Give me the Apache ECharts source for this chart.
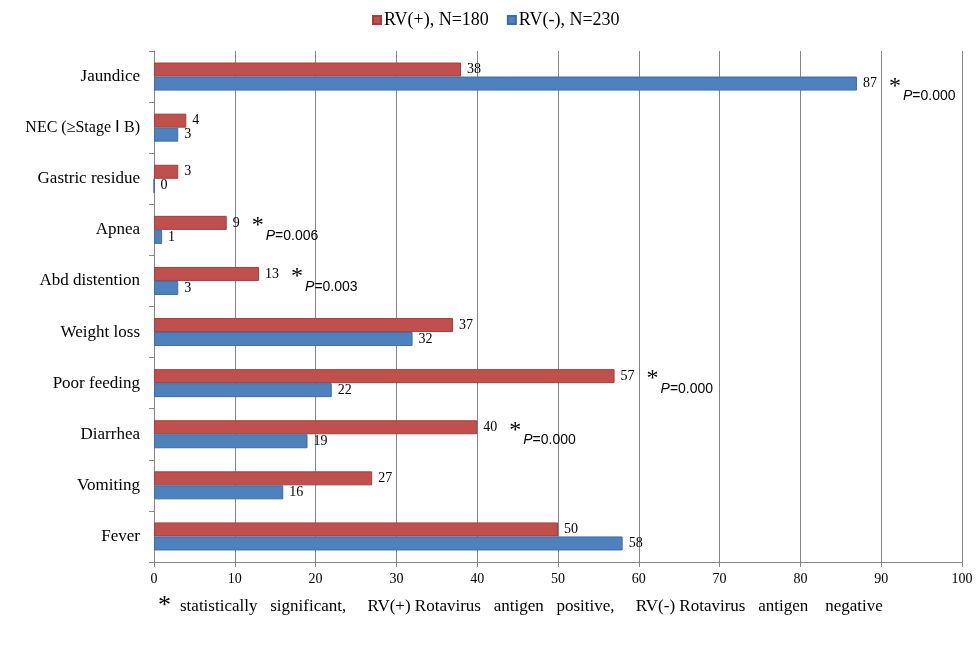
<!DOCTYPE html>
<html>
<head>
<meta charset="utf-8">
<script src="https://cdn.jsdelivr.net/npm/echarts@6/dist/echarts.min.js"></script>
<style>
html,body{margin:0;padding:0;background:#fff;}
#main{width:976px;height:651px;}
</style>
</head>
<body>
<div id="main"></div>
<script>
var categories = ['Fever','Vomiting','Diarrhea','Poor feeding','Weight loss','Abd distention','Apnea','Gastric residue','NEC (\u2265Stage \u2160 B)','Jaundice'];
var rvPos = [50,27,40,57,37,13,9,3,4,38];
var rvNeg = [58,16,19,22,32,3,1,0,3,87];
var pPos = ['','','0.000','0.000','','0.003','0.006','','',''];
var pNeg = ['','','','','','','','','','0.000'];
var xTicks = [0,10,20,30,40,50,60,70,80,90,100];
var legendNames = ['RV(+), N=180','RV(-), N=230'];
var footnote = 'statistically   significant,     RV(+) Rotavirus   antigen   positive,     RV(-) Rotavirus   antigen    negative';

var serif = '"Liberation Serif","Times New Roman",serif';
var sans = '"Liberation Sans",Arial,sans-serif';
var chart = echarts.init(document.getElementById('main'));

function labelFmt(pArr){
  return function(p){
    var s = '{v|' + p.value + '}';
    if (pArr[p.dataIndex]) {
      s += '{sp|}{st|*}{pi|P}{pv|=' + pArr[p.dataIndex] + '}';
    }
    return s;
  };
}
var richStyles = {
  v: {fontFamily: serif, fontSize: 14, color: '#000'},
  sp: {width: 12},
  st: {fontFamily: serif, fontSize: 24, color: '#000', padding: [6,0,0,0]},
  pi: {fontFamily: sans, fontStyle: 'italic', fontSize: 14, color: '#000', padding: [26,0,0,2]},
  pv: {fontFamily: sans, fontSize: 14, color: '#000', padding: [26,0,0,0]}
};

chart.setOption({
  animation: false,
  backgroundColor: '#fff',
  legend: {
    top: 6,
    left: 367,
    itemWidth: 8,
    itemHeight: 8,
    itemGap: 18,
    icon: 'rect',
    textStyle: {fontFamily: serif, fontSize: 18, color: '#000', padding: [0,0,0,-2]},
    data: legendNames
  },
  grid: {left: 154, right: 14, top: 51, bottom: 89, containLabel: false},
  xAxis: {
    type: 'value',
    min: 0, max: 100, interval: 10,
    axisLine: {show: true, lineStyle: {color: '#868686'}},
    axisTick: {show: true, length: 5, lineStyle: {color: '#868686'}},
    axisLabel: {fontFamily: serif, fontSize: 14, color: '#000', margin: 10,
      formatter: function(v){ return xTicks.indexOf(v) >= 0 ? String(v) : ''; }},
    splitLine: {show: true, lineStyle: {color: '#868686', width: 1}}
  },
  yAxis: {
    type: 'category',
    data: categories,
    axisLine: {show: true, lineStyle: {color: '#868686'}},
    axisTick: {show: true, length: 5, lineStyle: {color: '#868686'}},
    axisLabel: {fontFamily: serif, fontSize: 17, color: '#000', margin: 14,
      formatter: function(v){ return v.indexOf('NEC') === 0 ? '{n|' + v + '}' : v; },
      rich: {n: {fontFamily: serif, fontSize: 16, color: '#000'}}}
  },
  series: [
    {
      name: legendNames[0], type: 'bar', data: rvPos,
      barWidth: 14, barGap: '0%',
      itemStyle: {color: '#C0504D', borderColor: '#A33E3B', borderWidth: 1},
      label: {show: true, position: 'right', distance: 6, formatter: labelFmt(pPos), rich: richStyles}
    },
    {
      name: legendNames[1], type: 'bar', data: rvNeg,
      barWidth: 14, barGap: '0%',
      itemStyle: {color: '#4F81BD', borderColor: '#3C6CA8', borderWidth: 1},
      label: {show: true, position: 'right', distance: 6, formatter: labelFmt(pNeg), rich: richStyles}
    }
  ],
  graphic: [
    {type: 'text', left: 158, top: 593, style: {text: '*', fontFamily: serif, fontSize: 26, fill: '#000'}},
    {type: 'text', left: 180, top: 598, style: {text: footnote, fontFamily: serif, fontSize: 17, fill: '#000'}}
  ]
});
</script>
</body>
</html>
